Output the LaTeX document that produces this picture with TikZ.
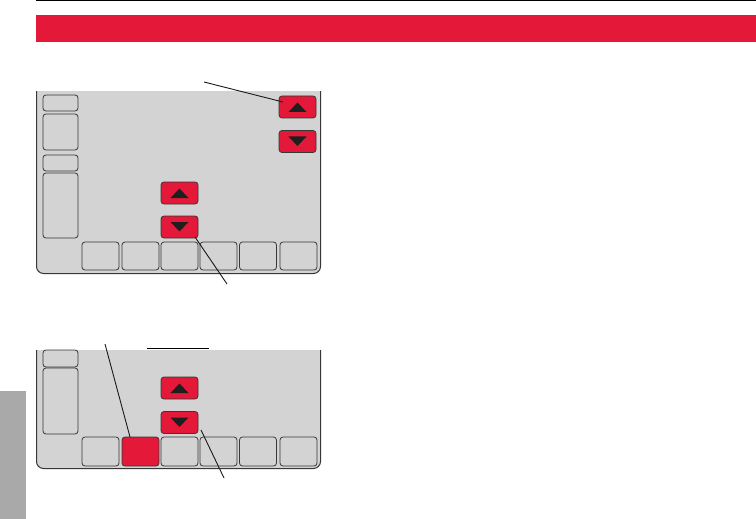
\documentclass[tikz,border=0pt]{standalone}
\begin{document}
\definecolor{hred}{RGB}{228,24,56}
\definecolor{pgray}{RGB}{211,211,211}
\definecolor{tgray}{RGB}{169,169,169}
\definecolor{edge}{RGB}{55,55,55}
\begin{tikzpicture}[x=1pt,y=-1pt,
  panel/.style={fill=pgray,draw=edge,line width=1pt,rounded corners=7pt},
  key/.style={draw=edge,line width=0.8pt,rounded corners=3pt,minimum width=37pt,minimum height=28pt,inner sep=0pt,outer sep=0pt},
  sidebox/.style={draw=edge,line width=0.8pt,rounded corners=3pt,inner sep=0pt,outer sep=0pt},
  arrowbtn/.style={fill=hred,draw=edge,line width=0.8pt,rounded corners=3pt,minimum width=37pt,minimum height=22pt,inner sep=0pt,outer sep=0pt},
  leader/.style={draw=black!90,line width=0.9pt},
  tri/.style={fill=black!88}]
\useasboundingbox (0,0) rectangle (756,519);
% header
\draw[line width=1.2pt] (36,0.8) -- (756,0.8);
\fill[hred] (36,15) rectangle (756,42);
% side tab
\fill[tgray] (0,391) rectangle (26,519);
% panel 1
\begin{scope}
\clip (0,92) rectangle (756,300);
\path[panel] (36.5,70) rectangle (320.5,273.5);
\end{scope}
\node[sidebox,minimum width=35pt,minimum height=16pt] (a1) at (60.5,103) {};
\node[sidebox,minimum width=35pt,minimum height=36pt] (a2) at (60.5,132) {};
\node[sidebox,minimum width=35pt,minimum height=16pt] (a3) at (60.5,163) {};
\node[sidebox,minimum width=35pt,minimum height=65pt] (a4) at (60.5,205.5) {};
\foreach \i/\x in {1/100.5,2/140.5,3/179.5,4/218.5,5/258,6/298.5}
  \node[key] (k\i) at (\x,256) {};
\node[arrowbtn] (tu) at (297.5,107) {};
\node[arrowbtn] (td) at (297.5,141.5) {};
\node[arrowbtn] (mu) at (179.5,193) {};
\node[arrowbtn] (md) at (179.5,227) {};
% panel 2
\begin{scope}
\clip (0,350) rectangle (756,500);
\path[panel] (36.5,330) rectangle (320.5,468.5);
\end{scope}
\node[sidebox,minimum width=35pt,minimum height=17pt] (b1) at (60.5,358.5) {};
\node[sidebox,minimum width=35pt,minimum height=66pt] (b2) at (60.5,401) {};
\foreach \i/\x in {1/100.5,3/179.5,4/218.5,5/258,6/298.5}
  \node[key,minimum height=29pt] (j\i) at (\x,451.5) {};
\node[key,minimum height=29pt,fill=hred] (j2) at (140.5,451.5) {};
\node[arrowbtn] (nu) at (179.5,388) {};
\node[arrowbtn] (nd) at (179.5,422.5) {};
% triangles
\foreach \n in {tu,mu,nu}
  \fill[tri] ([shift={(-9,5)}]\n.center) -- ([shift={(9,5)}]\n.center) -- ([shift={(0,-4.5)}]\n.center) -- cycle;
\foreach \n in {td,md,nd}
  \fill[tri] ([shift={(-9,-5)}]\n.center) -- ([shift={(9,-5)}]\n.center) -- ([shift={(0,4.5)}]\n.center) -- cycle;
% rule above panel 2
\coordinate (r1) at (147,348);
\coordinate (r2) at (209,348);
\draw[line width=1pt] (r1) -- (r2);
% leaders
\coordinate (c1) at (204,82);
\coordinate (c2) at (227,284);
\coordinate (c3) at (105,344);
\coordinate (c4) at (224,478);
\draw[leader] (c1) -- ([shift={(-14.5,-5)}]tu.center);
\draw[leader] ([shift={(15.5,10)}]md.center) -- (c2);
\draw[leader] (c3) -- ([shift={(-10.5,-14.5)}]j2.center);
\draw[leader] ([shift={(21.5,7.5)}]nd.center) -- (c4);
\end{tikzpicture}
\end{document}
